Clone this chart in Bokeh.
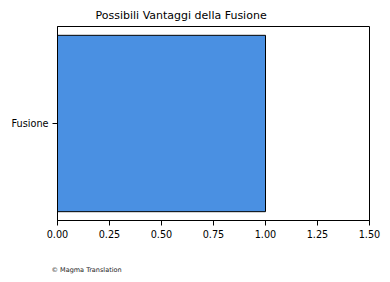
from bokeh.plotting import figure
from bokeh.models import Range1d, FixedTicker, Title
from bokeh.embed import file_html
from bokeh.resources import INLINE

categories = ["Fusione"]
values = [1.0]
x_ticks = [0.0, 0.25, 0.5, 0.75, 1.0, 1.25, 1.5]
title_text = "Possibili Vantaggi della Fusione"
credit_text = "© Magma Translation"

FONT = "DejaVu Sans"

p = figure(width=390, height=282, output_backend="svg", toolbar_location=None,
           x_range=Range1d(0, 1.5), y_range=Range1d(-0.44, 0.44),
           min_border_left=57, min_border_right=21, min_border_top=26, min_border_bottom=62)

ys = list(range(len(categories)))
p.hbar(y=ys, right=values, left=0, height=0.8,
       fill_color="#4a90e2", line_color="black", line_width=1)

p.title.text = title_text
p.title.text_font = FONT
p.title.text_font_size = "11px"
p.title.text_font_style = "normal"
p.title.text_color = "black"
p.title.align = "left"
p.title.offset = 38

p.outline_line_color = "black"
p.outline_line_width = 1
p.grid.visible = False
p.background_fill_color = "white"
p.border_fill_color = "white"

p.xaxis.ticker = FixedTicker(ticks=x_ticks)
p.xaxis.major_label_overrides = {t: f"{t:.2f}" for t in x_ticks}
p.yaxis.ticker = FixedTicker(ticks=ys)
p.yaxis.major_label_overrides = {i: c for i, c in zip(ys, categories)}
for ax in (p.xaxis, p.yaxis):
    ax.axis_line_color = "black"
    ax.major_tick_line_color = "black"
    ax.major_tick_in = 0
    ax.major_tick_out = 5
    ax.minor_tick_line_color = None
    ax.major_label_text_font = FONT
    ax.major_label_text_font_size = "9.7px"
    ax.major_label_text_color = "black"
    ax.major_label_standoff = 4

# blank x-axis label: keeps some room between the tick labels and the credit line
p.xaxis.axis_label = " "
p.xaxis.axis_label_text_font = FONT
p.xaxis.axis_label_text_font_size = "8px"
p.xaxis.axis_label_standoff = 4

# small credit line under the x axis
credit = Title(text=credit_text, align="left", offset=-6, standoff=15,
               text_font=FONT, text_font_size="6.5px", text_font_style="normal",
               text_color="#222222")
p.add_layout(credit, "below")

open("out.html", "w").write(file_html(p, INLINE))
